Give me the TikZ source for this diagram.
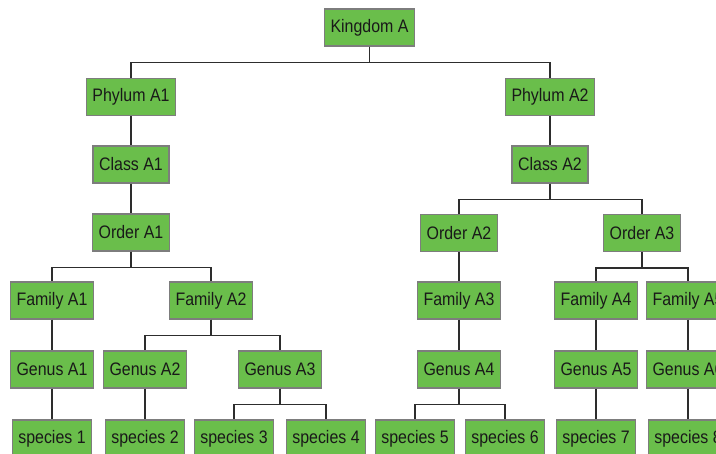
\documentclass[tikz,border=0pt]{standalone}
\usepackage{fontspec}
\setmainfont[FakeStretch=0.88]{Liberation Sans}
\definecolor{boxgreen}{RGB}{106,190,75}
\definecolor{boxedge}{RGB}{125,125,125}
\definecolor{linkgray}{RGB}{45,45,45}
\begin{document}
\begin{tikzpicture}[x=0.02cm, y=-0.02cm,
    taxon/.style={draw=boxedge, fill=boxgreen, line width=0.6pt,
      minimum height=0.74cm, inner xsep=3.5pt,
      font=\fontsize{10.3}{12}\selectfont, text=black!90},
    link/.style={draw=linkgray, line width=0.8pt}]
  \clip (0,0) rectangle (716,453);
  %% kingdom, phylum, class
  \node[taxon] (k) at (369.5,27.5) {Kingdom A};
  \node[taxon] (p1) at (131,97) {Phylum A1};
  \node[taxon] (p2) at (550,97) {Phylum A2};
  \node[taxon] (c1) at (131,164.5) {Class A1};
  \node[taxon] (c2) at (550,164.5) {Class A2};
  %% order
  \node[taxon] (o1) at (131,232.5) {Order A1};
  \node[taxon] (o2) at (459,233) {Order A2};
  \node[taxon] (o3) at (642,233) {Order A3};
  %% family
  \node[taxon] (f1) at (52,300.5) {Family A1};
  \node[taxon] (f2) at (211,300.5) {Family A2};
  \node[taxon] (f3) at (459,300.5) {Family A3};
  \node[taxon] (f4) at (596,300.5) {Family A4};
  \node[taxon] (f5) at (688,300.5) {Family A5};
  %% genus
  \node[taxon] (g1) at (52,369.5) {Genus A1};
  \node[taxon] (g2) at (145,369.5) {Genus A2};
  \node[taxon] (g3) at (280,369.5) {Genus A3};
  \node[taxon] (g4) at (459,369.5) {Genus A4};
  \node[taxon] (g5) at (596,369.5) {Genus A5};
  \node[taxon] (g6) at (688,369.5) {Genus A6};
  %% species
  \node[taxon] (s1) at (52,438.5) {species 1};
  \node[taxon] (s2) at (145,438.5) {species 2};
  \node[taxon] (s3) at (234,438.5) {species 3};
  \node[taxon] (s4) at (326,438.5) {species 4};
  \node[taxon] (s5) at (415,438.5) {species 5};
  \node[taxon] (s6) at (505,438.5) {species 6};
  \node[taxon] (s7) at (596,438.5) {species 7};
  \node[taxon] (s8) at (688,438.5) {species 8};
  %% links
  \foreach \up/\down in {k/p1,k/p2,p1/c1,p2/c2,c1/o1,c2/o2,c2/o3,
      o1/f1,o1/f2,o2/f3,o3/f4,o3/f5,f1/g1,f2/g2,f2/g3,f3/g4,f4/g5,f5/g6,
      g1/s1,g2/s2,g3/s3,g3/s4,g4/s5,g4/s6,g5/s7,g6/s8}
    \draw[link] (\up.south) -- ++(0,16) -| (\down.north);
\end{tikzpicture}
\end{document}
